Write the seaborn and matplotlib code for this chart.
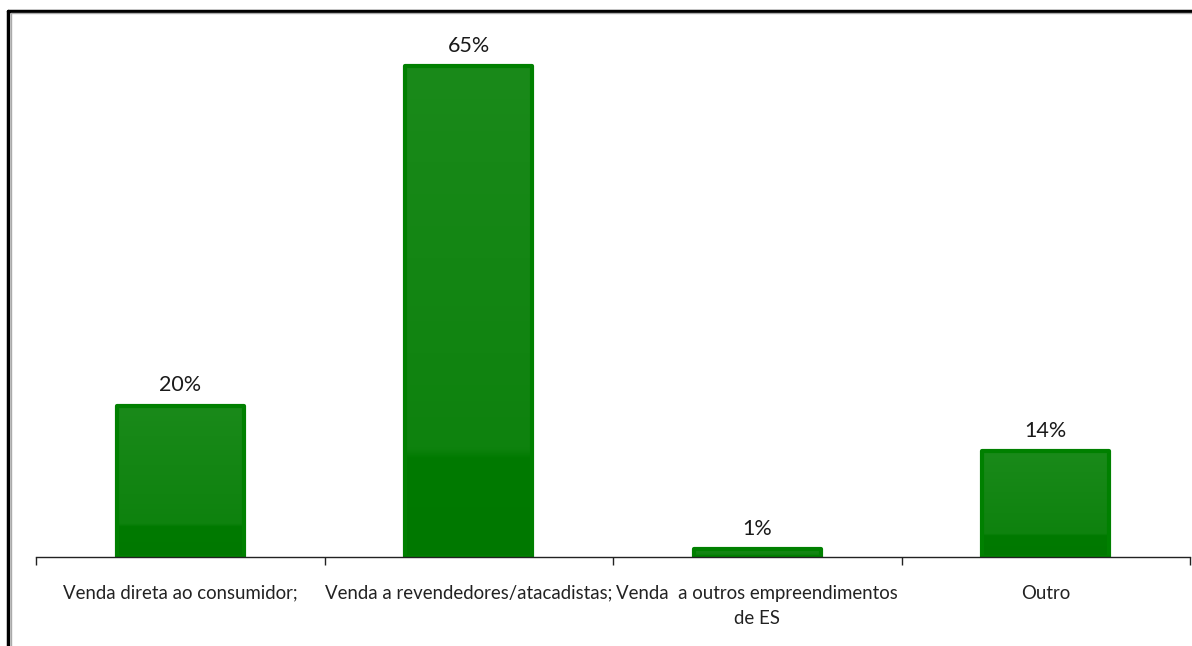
import numpy as np
import pandas as pd
import matplotlib
matplotlib.use("Agg")
import matplotlib.pyplot as plt
from matplotlib.lines import Line2D
import seaborn as sns

categories = [
    "Venda direta ao consumidor;",
    "Venda a revendedores/atacadistas;",
    "Venda  a outros empreendimentos\nde ES",
    "Outro",
]
values = [20, 65, 1, 14]
value_labels = ["20%", "65%", "1%", "14%"]

sns.set_theme(style="white")
plt.rcParams["font.family"] = ["Lato", "DejaVu Sans"]

df = pd.DataFrame({"categoria": categories, "valor": values})

fig = plt.figure(figsize=(11.92, 6.46), dpi=100)
ax = fig.add_axes([36 / 1192, 89 / 646, 1154 / 1192, 528.5 / 646])

sns.barplot(data=df, x="categoria", y="valor", ax=ax, width=0.44,
            color="#158915", edgecolor="#008000", linewidth=3.0,
            saturation=1)

# vertical gradient inside each bar
grad = np.linspace(0, 1, 256).reshape(-1, 1)
cmap = matplotlib.colors.LinearSegmentedColormap.from_list(
    "g", [(0.0, "#007800"), (0.2, "#007a00"), (0.22, "#0e820e"), (1.0, "#1a8a1a")])
for p in ax.patches:
    x0, y0 = p.get_x(), p.get_y()
    w, h = p.get_width(), p.get_height()
    im = ax.imshow(grad, cmap=cmap, aspect="auto", origin="lower",
                   extent=[x0, x0 + w, y0, y0 + h], zorder=p.get_zorder() - 0.1)
    im.set_clip_path(p)
    p.set_facecolor("none")
    p.set_zorder(3)
    p.set_joinstyle("round")

ax.set_xlim(-0.5, len(categories) - 0.5)
ax.set_ylim(0, 70)

for i, (v, lab) in enumerate(zip(values, value_labels)):
    ax.text(i, v + 1.4, lab, ha="center", va="bottom", fontsize=15.5,
            color="#1a1a1a")

for s in ["top", "right", "left"]:
    ax.spines[s].set_visible(False)
ax.spines["bottom"].set_color("#222222")
ax.spines["bottom"].set_linewidth(1.0)
ax.spines["bottom"].set_zorder(4)

ax.set_yticks([])
ax.set_xlabel("")
ax.set_ylabel("")
ax.set_xticks(np.arange(-0.5, len(categories), 1.0), minor=False)
ax.set_xticklabels([])
ax.set_xticks(np.arange(len(categories)), minor=True)
ax.set_xticklabels(categories, minor=True, fontsize=13.4, color="#222222",
                   linespacing=1.62)
ax.tick_params(axis="x", which="major", direction="out", length=6, width=1,
               color="#222222", bottom=True)
ax.tick_params(axis="x", which="minor", length=0, pad=20, bottom=True)

# outer chart frame (top and left edges)
fig.add_artist(Line2D([8 / 1192, 1], [1 - 11 / 646, 1 - 11 / 646],
                      transform=fig.transFigure, color="black", lw=2.5))
fig.add_artist(Line2D([8 / 1192, 8 / 1192], [0, 1 - 11 / 646],
                      transform=fig.transFigure, color="black", lw=2.5))
fig.add_artist(Line2D([10.5 / 1192, 1], [1 - 13 / 646, 1 - 13 / 646],
                      transform=fig.transFigure, color="#aaaaaa", lw=1))
fig.add_artist(Line2D([10.5 / 1192, 10.5 / 1192], [0, 1 - 13 / 646],
                      transform=fig.transFigure, color="#aaaaaa", lw=1))

fig.savefig("out.png", dpi=100, facecolor="white")
